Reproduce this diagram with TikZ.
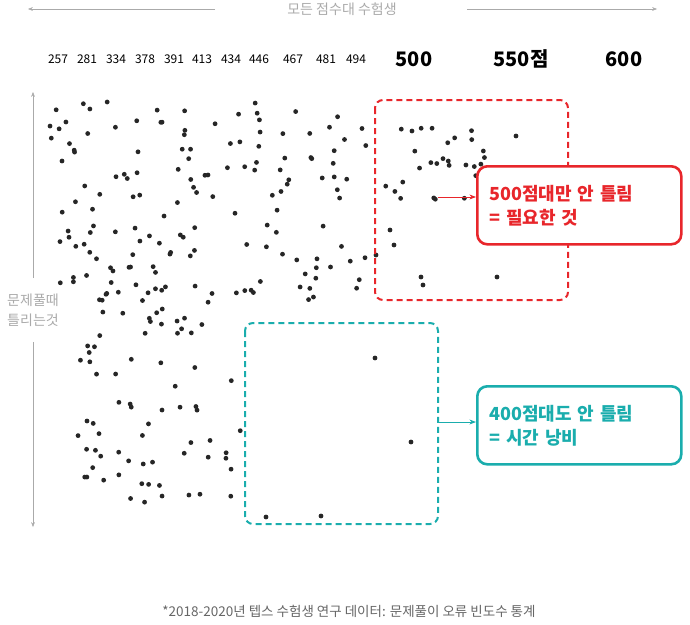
\documentclass[tikz,border=0pt]{standalone}
\usepackage{fontspec}
\setmainfont{Noto Sans CJK KR}
\usetikzlibrary{positioning,arrows.meta}
\definecolor{hotred}{RGB}{232,38,43}
\definecolor{tealish}{RGB}{26,173,173}
\definecolor{softgray}{RGB}{170,170,170}

\begin{document}
\begin{tikzpicture}[x=1pt,y=-1pt, >=Stealth,
    dot/.style={circle,fill=black!85,inner sep=0pt,minimum size=4.8pt},
    score/.style={font=\fontsize{12}{13}\selectfont,anchor=base},
    bigscore/.style={font=\fontsize{20}{21}\selectfont\bfseries,anchor=base},
    zone/.style={draw=#1,dash pattern=on 6pt off 4pt,line width=2pt,rounded corners=8pt},
    callout/.style={draw=#1,line width=2.6pt,rounded corners=10pt,fill=white,text=#1,
        font=\fontsize{18}{24}\selectfont\bfseries,align=left,minimum width=204pt,minimum height=78pt,text width=180pt},
    note/.style={text=softgray,font=\fontsize{14}{20}\selectfont}]
    \useasboundingbox (0,0) rectangle (690,624);
    % header
    \node[note] (all) at (342,9) {모든 점수대 수험생};
    \coordinate (tl) at (28,9);  \coordinate (tr) at (657,9);
    \draw[softgray,->] (215,9) -- (tl);
    \draw[softgray,->] (467,9) -- (tr);
    % score axis
    \foreach \s/\x in {257/58,281/87,334/116,378/145,391/174,413/202,434/231,446/259,467/293,481/326,494/356}
        \node[score] at (\x,63) {\s};
    \node[bigscore] at (414,66) {500};
    \node[bigscore] at (521,66) {550점};
    \node[bigscore] at (624,66) {600};
    % side label
    \node[note,align=center] (miss) at (33,310) {문제풀때\\틀리는것};
    \coordinate (mt) at (33,92); \coordinate (mb) at (33,527);
    \draw[softgray,->] (miss.north) ++(0,-12) -- (mt);
    \draw[softgray,->] (miss.south) ++(0,12) -- (mb);
    % scatter
    \pgfmathsetseed{7}
    \foreach \i in {1,...,150}{
        \pgfmathsetmacro\px{50+320*rnd}
        \pgfmathsetmacro\py{100+200*rnd}
        \node[dot] at (\px,\py) {};}
    \foreach \i in {1,...,75}{
        \pgfmathsetmacro\px{70+175*rnd}
        \pgfmathsetmacro\py{285+220*rnd}
        \node[dot] at (\px,\py) {};}
    \foreach \i in {1,...,30}{
        \pgfmathsetmacro\px{385+110*rnd}
        \pgfmathsetmacro\py{125+85*rnd}
        \node[dot] at (\px,\py) {};}
    \foreach \p in {(390,230),(394,245),(376,255),(421,277),(423,285),(497,277),(516,136),(375,358),(411,442),(266,517),(321,516)}
        \node[dot] at \p {};
    % zones
    \draw[zone=hotred] (375,100) rectangle (568,300);
    \draw[zone=tealish] (245,323) rectangle (438,524);
    \node[callout=hotred,anchor=north west] (need) at (476,165) {500점대만 안 틀림\\= 필요한 것};
    \node[callout=tealish,anchor=north west] (waste) at (476,385) {400점대도 안 틀림\\= 시간 낭비};
    \coordinate (ra) at (438,197); \coordinate (ta) at (438,422);
    \draw[hotred,thick,->] (ra) -- (ra -| need.west);
    \draw[tealish,thick,->] (ta) -- (ta -| waste.west);
    % caption
    \node[text=black!60,font=\fontsize{13.5}{15}\selectfont] (cap) at (349,611) {*2018-2020년 텝스 수험생 연구 데이터: 문제풀이 오류 빈도수 통계};
\end{tikzpicture}
\end{document}
